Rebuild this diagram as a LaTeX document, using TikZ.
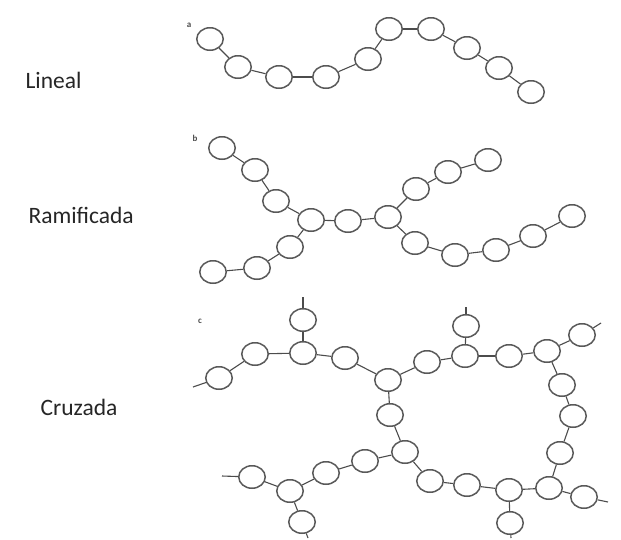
\documentclass[tikz,border=0pt]{standalone}
\usepackage{fontspec}
\setmainfont{Carlito}
\usepackage{tikz}
\usetikzlibrary{shapes.geometric}

\begin{document}
\begin{tikzpicture}[x=1pt, y=-1pt,
    bol/.style={ellipse, draw=black!65, line width=1.5pt, minimum width=26.5pt, minimum height=22.5pt, inner sep=0pt},
    enlace/.style={black!70, line width=1.1pt},
    tipo/.style={anchor=base west, text=black!85, font=\fontsize{23.5}{26}\selectfont},
    letra/.style={text=black!70, font=\fontsize{9}{9}\selectfont\bfseries}]

    \useasboundingbox (0,0) rectangle (621,539);

    % Titulos
    \node[tipo] (tlin) at (22,88) {Lineal};
    \node[tipo] (tram) at (25,223) {Ramificada};
    \node[tipo] (tcru) at (37,415) {Cruzada};

    \node[letra] (la) at (189,25) {a};
    \node[letra] (lb) at (195,138) {b};
    \node[letra] (lc) at (200,321) {c};

    % Lineal
    \foreach \n/\x/\y in {1/210/39, 2/238/67, 3/279/77, 4/326/77, 5/368/59,
                          6/389/29, 7/431/29, 8/467/48, 9/499/68, 10/531/92}
        \node[bol] (a\n) at (\x,\y) {};
    \foreach \i/\j in {1/2, 2/3, 3/4, 4/5, 5/6, 6/7, 7/8, 8/9, 9/10}
        \draw[enlace] (a\i) -- (a\j);

    % Ramificada
    \foreach \n/\x/\y in {1/222/148, 2/255/170, 3/276/201, 4/311/220, 5/348/221,
                          6/388/217, 7/416/189, 8/448/172, 9/488/160,
                          10/415/243, 11/455/255, 12/496/250, 13/533/236, 14/572/216,
                          15/290/247, 16/257/268, 17/213/272}
        \node[bol] (b\n) at (\x,\y) {};
    \foreach \i/\j in {1/2, 2/3, 3/4, 4/5, 5/6, 6/7, 7/8, 8/9,
                       6/10, 10/11, 11/12, 12/13, 13/14, 4/15, 15/16, 16/17}
        \draw[enlace] (b\i) -- (b\j);

    % Cruzada
    \foreach \n/\x/\y in {1/219/378, 2/255/354, 3/303/353, 4/303/320, 5/345/358,
                          6/388/380, 7/390/415, 8/427/362, 9/465/356, 10/466/326,
                          11/509/356, 12/547/351, 13/582/335, 14/562/385, 15/573/416,
                          16/405/452, 17/365/461, 18/326/473, 19/290/491, 20/252/477,
                          21/302/522, 22/430/481, 23/467/485, 24/509/490, 25/510/523,
                          26/549/488, 27/584/497, 28/560/453}
        \node[bol] (c\n) at (\x,\y) {};

    % extremos sueltos
    \coordinate (e1) at (193,387);
    \coordinate (e4) at (303,297);
    \coordinate (e10) at (466,307);
    \coordinate (e13) at (601,323);
    \coordinate (e20) at (222,476);
    \coordinate (e21) at (308,538);
    \coordinate (e25) at (511,538);
    \coordinate (e27) at (608,502);

    \foreach \i/\j in {1/2, 2/3, 3/5, 5/6, 6/8, 8/9, 9/11, 11/12, 12/13,
                       3/4, 6/7, 7/16, 9/10, 12/14, 14/15, 15/28, 28/26,
                       20/19, 19/18, 18/17, 17/16, 16/22, 22/23, 23/24, 24/26, 26/27,
                       19/21, 24/25}
        \draw[enlace] (c\i) -- (c\j);
    \foreach \i in {1, 4, 10, 13, 20, 21, 25, 27}
        \draw[enlace] (c\i) -- (e\i);

\end{tikzpicture}
\end{document}
